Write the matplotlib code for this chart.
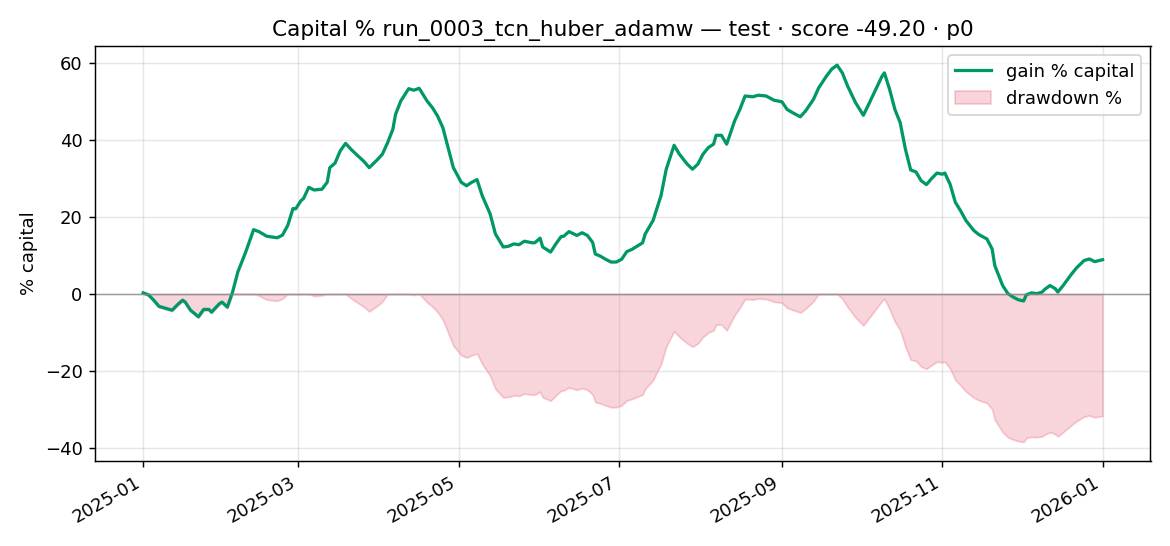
import numpy as np
import pandas as pd
import matplotlib
matplotlib.use("Agg")
import matplotlib.pyplot as plt
import matplotlib.dates as mdates

# day offsets from 2025-01-01 and gain % of capital
days = [0, 2, 4, 6, 8, 11, 13, 15, 16, 18, 21, 23, 25, 26, 29, 30, 32, 34, 36, 39,
        42, 44, 47, 51, 53, 55, 57, 58, 60, 61, 63, 65, 68, 70, 71, 73, 75, 77, 79, 81,
        84, 86, 89, 91, 93, 95, 96, 98, 101, 103, 105, 108, 110, 112, 114, 116, 118, 121, 123, 125,
        127, 129, 132, 134, 137, 139, 141, 143, 145, 148, 149, 151, 152, 155, 157, 159, 160, 162, 165, 167,
        169, 171, 172, 174, 176, 178, 180, 182, 184, 186, 190, 191, 194, 197, 199, 202, 204, 207, 209, 211,
        213, 215, 217, 218, 220, 222, 225, 227, 229, 232, 234, 237, 240, 243, 245, 247, 250, 252, 255, 257,
        260, 262, 264, 266, 268, 271, 274, 276, 279, 281, 282, 284, 286, 288, 290, 292, 294, 296, 298, 300,
        302, 304, 305, 307, 309, 311, 313, 316, 318, 321, 323, 324, 327, 329, 331, 333, 335, 336, 338, 340,
        342, 343, 345, 347, 348, 350, 353, 355, 358, 360, 362, 365]
gain = [0.3, -0.2, -1.6, -3.2, -3.6, -4.2, -2.8, -1.6, -2.1, -4.2, -5.9, -4.0, -4.0, -4.7, -2.5, -2.1, -3.4, 0.5, 5.7, 10.9,
        16.7, 16.2, 15.0, 14.6, 15.3, 17.8, 22.2, 22.1, 24.2, 24.8, 27.7, 27.0, 27.2, 29.0, 32.8, 34.0, 37.2, 39.1, 37.6, 36.3,
        34.4, 32.8, 34.8, 36.3, 39.3, 42.8, 46.6, 50.1, 53.3, 52.9, 53.4, 50.1, 48.4, 46.2, 43.2, 38.0, 32.8, 29.0, 28.1, 29.0,
        29.7, 25.5, 20.8, 15.6, 12.2, 12.4, 13.0, 12.8, 13.7, 13.3, 13.3, 14.5, 12.2, 10.9, 13.0, 14.9, 15.0, 16.2, 15.2, 15.9,
        15.2, 13.4, 10.4, 9.8, 9.0, 8.3, 8.3, 9.0, 11.0, 11.6, 13.3, 15.6, 19.1, 25.5, 32.4, 38.6, 36.3, 33.7, 32.4, 33.7,
        36.3, 38.0, 38.9, 41.2, 41.2, 38.9, 44.9, 47.9, 51.4, 51.2, 51.6, 51.4, 50.3, 49.9, 47.9, 47.1, 46.0, 47.5, 50.5, 53.5,
        56.6, 58.4, 59.4, 57.4, 54.0, 49.7, 46.4, 49.2, 53.5, 56.4, 57.4, 53.1, 47.9, 44.5, 37.6, 32.2, 31.7, 29.4, 28.4, 30.0,
        31.4, 31.1, 31.4, 28.5, 23.8, 21.6, 19.1, 16.5, 15.4, 14.3, 11.7, 7.4, 2.2, 0.1, -0.8, -1.5, -1.8, -0.2, 0.3, 0.1,
        0.5, 1.2, 2.2, 1.4, 0.5, 2.2, 5.0, 6.7, 8.7, 9.1, 8.4, 8.9]

dates = pd.Timestamp("2025-01-01") + pd.to_timedelta(days, unit="D")
gain = np.array(gain)
equity = 1 + gain / 100
peak = np.maximum.accumulate(equity)
drawdown = (equity / peak - 1) * 100

fig, ax = plt.subplots(figsize=(9, 4.2), dpi=130)
ax.plot(dates, gain, color="#009966", lw=1.8, label="gain % capital")
ax.fill_between(dates, drawdown, 0, color="crimson", alpha=0.18, label="drawdown %")
ax.axhline(0, color="#888888", lw=0.8, alpha=0.8)
ax.set_title("Capital % run_0003_tcn_huber_adamw — test · score -49.20 · p0")
ax.set_ylabel("% capital")
ax.grid(alpha=0.3)
ax.legend(loc="upper right")
ax.xaxis.set_major_locator(mdates.MonthLocator(bymonth=[1, 3, 5, 7, 9, 11]))
ax.xaxis.set_major_formatter(mdates.DateFormatter("%Y-%m"))
fig.autofmt_xdate()
fig.tight_layout()
plt.savefig("out.png")
